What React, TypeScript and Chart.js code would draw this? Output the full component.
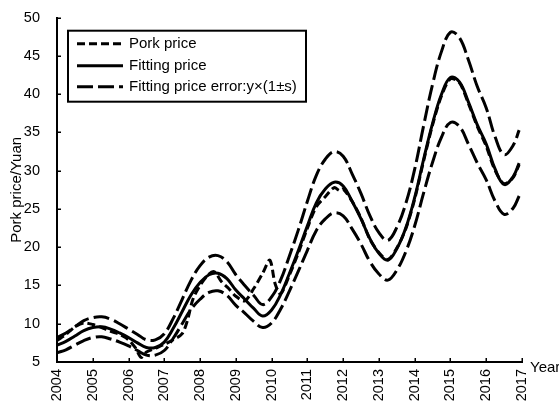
import React, { useEffect, useRef } from 'react';
import { Chart, registerables } from 'chart.js';

Chart.register(...registerables);

// ---- data ----
const years = [
  2004.0, 2004.25, 2004.5, 2004.75, 2005.0, 2005.25, 2005.5, 2005.75,
  2006.0, 2006.25, 2006.5, 2006.75, 2007.0, 2007.25, 2007.5, 2007.75,
  2008.0, 2008.25, 2008.5, 2008.75, 2009.0, 2009.25, 2009.5, 2009.75,
  2010.0, 2010.25, 2010.5, 2010.75, 2011.0, 2011.25, 2011.5, 2011.75,
  2012.0, 2012.25, 2012.5, 2012.75, 2013.0, 2013.25, 2013.5, 2013.75,
  2014.0, 2014.25, 2014.5, 2014.75, 2015.0, 2015.25, 2015.5, 2015.75,
  2016.0, 2016.25, 2016.5, 2016.75, 2016.92,
];

const fittingPrice = [
  7.2, 7.7, 8.4, 9.1, 9.5, 9.6, 9.3, 8.8,
  8.2, 7.5, 6.9, 6.9, 7.6, 9.4, 11.6, 13.8,
  15.4, 16.4, 16.6, 15.9, 14.4, 13.2, 12.0, 11.0,
  11.8, 13.8, 16.6, 19.6, 22.8, 25.8, 27.6, 28.5,
  28.0, 26.0, 23.7, 21.1, 19.2, 18.3, 19.8, 22.5,
  26.5, 31.5, 36.2, 40.0, 42.2, 41.6, 39.0, 36.0,
  33.5, 30.2, 28.2, 29.2, 31.0,
];

const upperError = [
  8.2, 8.8, 9.6, 10.4, 10.8, 10.9, 10.6, 10.0,
  9.3, 8.6, 7.9, 7.9, 8.7, 10.7, 13.2, 15.7,
  17.6, 18.7, 18.9, 18.1, 16.4, 15.0, 13.7, 12.5,
  13.5, 15.7, 18.9, 22.3, 26.0, 29.4, 31.5, 32.5,
  31.9, 29.6, 27.0, 24.1, 21.9, 20.9, 22.6, 25.7,
  30.2, 35.9, 41.3, 45.6, 48.1, 47.4, 44.5, 41.0,
  38.2, 34.4, 32.1, 33.3, 35.3,
];

const lowerError = [
  6.2, 6.6, 7.2, 7.8, 8.2, 8.3, 8.0, 7.6,
  7.1, 6.5, 5.9, 5.9, 6.5, 8.1, 10.0, 11.9,
  13.2, 14.1, 14.3, 13.7, 12.4, 11.4, 10.3, 9.5,
  10.1, 11.9, 14.3, 16.9, 19.6, 22.2, 23.7, 24.5,
  24.1, 22.4, 20.4, 18.1, 16.5, 15.7, 17.0, 19.4,
  22.8, 27.1, 31.1, 34.4, 36.3, 35.8, 33.5, 31.0,
  28.8, 26.0, 24.3, 25.1, 26.7,
];

const porkYears = [
  2004.0, 2004.25, 2004.5, 2004.75, 2005.0, 2005.25, 2005.5, 2005.75,
  2006.0, 2006.2, 2006.35, 2006.5, 2006.75, 2007.0, 2007.25, 2007.5,
  2007.65, 2007.8, 2008.0, 2008.25, 2008.4, 2008.6, 2008.8, 2009.0,
  2009.25, 2009.5, 2009.75, 2009.95, 2010.1, 2010.25, 2010.5, 2010.75,
  2011.0, 2011.25, 2011.5, 2011.75, 2011.9, 2012.0, 2012.25, 2012.5,
  2012.75, 2013.0, 2013.25, 2013.5, 2013.75, 2014.0, 2014.25, 2014.5,
  2014.75, 2015.0, 2015.25, 2015.5, 2015.75, 2016.0, 2016.25, 2016.5,
  2016.75, 2016.92,
];

const porkPrice = [
  7.8, 8.6, 9.6, 10.1, 9.9, 9.5, 9.0, 8.6,
  7.9, 6.8, 5.6, 6.3, 6.8, 7.3, 7.9, 8.7,
  10.5, 13.2, 15.0, 16.5, 16.8, 15.5, 14.6, 13.6,
  13.0, 14.6, 16.6, 18.3, 15.2, 13.9, 16.4, 19.3,
  22.5, 25.3, 26.6, 27.8, 27.4, 27.6, 26.0, 23.8,
  21.0, 19.3, 18.4, 19.9, 22.4, 26.3, 31.3, 36.0,
  39.8, 42.0, 41.5, 38.8, 35.8, 33.2, 30.0, 28.3,
  29.1, 30.8,
];

const legendLabels = ['Pork price', 'Fitting price', 'Fitting price error:y×(1±s)'];
const yAxisTitle = 'Pork price/Yuan';
const xAxisTitle = 'Year';
const xMin = 2004;
const xMax = 2017;
const yMin = 5;
const yMax = 50;

const FONT = '"Liberation Sans", Arial, Helvetica, sans-serif';
const PORK_DASH = [8, 4];
const ERR_DASH = [16, 5];

const decorPlugin = {
  id: 'decor',
  afterDraw(chart: any) {
    const ctx = chart.ctx;
    const xs = chart.scales.x;
    const ys = chart.scales.y;
    const { left, top, bottom } = chart.chartArea;
    ctx.save();
    // inward tick marks
    ctx.strokeStyle = '#000';
    ctx.lineWidth = 1.5;
    ctx.setLineDash([]);
    xs.ticks.forEach((t: any) => {
      const px = Math.round(xs.getPixelForValue(t.value)) + 0.25;
      ctx.beginPath();
      ctx.moveTo(px, bottom);
      ctx.lineTo(px, bottom - 4);
      ctx.stroke();
    });
    ys.ticks.forEach((t: any) => {
      const py = Math.round(ys.getPixelForValue(t.value)) + 0.25;
      ctx.beginPath();
      ctx.moveTo(left, py);
      ctx.lineTo(left + 4, py);
      ctx.stroke();
    });
    // x axis title at the right end of the axis
    ctx.fillStyle = '#000';
    ctx.font = `15px ${FONT}`;
    ctx.textAlign = 'left';
    ctx.textBaseline = 'alphabetic';
    ctx.fillText(xAxisTitle, xs.right + 8, bottom + 10);

    // legend box
    const bx = left + 11;
    const by = top + 13;
    const bw = 238;
    const bh = 71;
    ctx.fillStyle = '#fff';
    ctx.fillRect(bx, by, bw, bh);
    ctx.strokeStyle = '#000';
    ctx.lineWidth = 2;
    ctx.strokeRect(bx, by, bw, bh);
    const dashes = [PORK_DASH, [], ERR_DASH];
    const rowY = [by + 13, by + 35, by + 56];
    legendLabels.forEach((lab, i) => {
      ctx.lineWidth = 3;
      ctx.setLineDash(dashes[i]);
      ctx.beginPath();
      ctx.moveTo(bx + 9, rowY[i]);
      ctx.lineTo(bx + 55, rowY[i]);
      ctx.stroke();
      ctx.setLineDash([]);
      ctx.fillStyle = '#000';
      ctx.font = `15px ${FONT}`;
      ctx.textAlign = 'left';
      ctx.textBaseline = 'middle';
      ctx.fillText(lab, bx + 61, rowY[i]);
    });
    ctx.restore();
  },
};

export default function App() {
  const ref = useRef<HTMLCanvasElement>(null);

  useEffect(() => {
    if (!ref.current) return;
    const toXY = (xs: number[], ys: number[]) => xs.map((x, i) => ({ x, y: ys[i] }));
    const common = {
      borderColor: '#000',
      backgroundColor: '#000',
      borderWidth: 3,
      pointRadius: 0,
      fill: false,
    };
    const chart = new Chart(ref.current, {
      type: 'line',
      data: {
        datasets: [
          { ...common, label: 'upper', data: toXY(years, upperError), borderDash: ERR_DASH, tension: 0.4 },
          { ...common, label: 'lower', data: toXY(years, lowerError), borderDash: ERR_DASH, tension: 0.4 },
          { ...common, label: legendLabels[1], data: toXY(years, fittingPrice), tension: 0.4 },
          { ...common, label: legendLabels[0], data: toXY(porkYears, porkPrice), borderDash: PORK_DASH, tension: 0.3 },
        ],
      },
      options: {
        animation: false,
        responsive: false,
        maintainAspectRatio: false,
        layout: { padding: { top: 13, right: 37, left: 0, bottom: 0 } },
        plugins: { legend: { display: false }, tooltip: { enabled: false } },
        scales: {
          x: {
            type: 'linear',
            min: xMin,
            max: xMax,
            grid: { display: false },
            border: { display: true, color: '#000', width: 2 },
            ticks: {
              stepSize: 1,
              autoSkip: false,
              minRotation: 90,
              maxRotation: 90,
              padding: -1,
              color: '#000',
              font: { family: FONT, size: 14.5 },
              callback: (v: any) => String(v),
            },
            afterFit: (s: any) => { s.height = 40; },
          },
          y: {
            type: 'linear',
            min: yMin,
            max: yMax,
            grid: { display: false },
            border: { display: true, color: '#000', width: 2 },
            ticks: {
              stepSize: 5,
              padding: 9,
              color: '#000',
              font: { family: FONT, size: 14.5 },
            },
            title: {
              display: true,
              text: yAxisTitle,
              color: '#000',
              font: { family: FONT, size: 15 },
              padding: { top: 8, bottom: 0 },
            },
            afterFit: (s: any) => { s.width = 57; },
          },
        },
      },
      plugins: [decorPlugin],
    });
    return () => chart.destroy();
  }, []);

  return (
    <div style={{ position: 'fixed', left: 0, top: 0, width: 559, height: 402, background: '#fff' }}>
      <canvas ref={ref} width={559} height={402} style={{ display: 'block' }} />
    </div>
  );
}
